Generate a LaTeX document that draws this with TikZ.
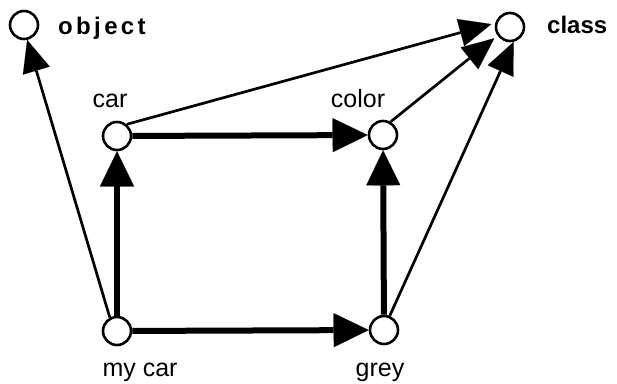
\documentclass[tikz,border=0pt]{standalone}
\usepackage{fontspec}
\setmainfont{Liberation Sans}
\usetikzlibrary{arrows.meta}
\tikzstyle{vertex}=[circle, draw, line width=2.6pt, minimum size=28pt, inner sep=0pt, fill=white]
\tikzstyle{lbl}=[inner sep=0pt, anchor=base, font=\fontsize{25}{30}\selectfont]
\tikzstyle{kind}=[inner sep=0pt, anchor=base west, font=\fontsize{24}{29}\selectfont\bfseries]
\tikzstyle{isa}=[line width=6pt, -{Triangle[length=35pt,width=34pt,line width=0.1pt]}]
\tikzstyle{inst}=[line width=2.7pt, -{Triangle[length=32pt,width=28pt,line width=0.1pt]}]

\begin{document}
\begin{tikzpicture}[x=1pt, y=-1pt]
\useasboundingbox (0,0) rectangle (617,383);
% Vertices
    \node[vertex] (object) at (24,25) {};
    \node[vertex] (class) at (510,27) {};
    \node[vertex] (car) at (117,136) {};
    \node[vertex] (color) at (383,135) {};
    \node[vertex] (mycar) at (117,331) {};
    \node[vertex] (grey) at (384,330) {};
%Labels
    \node[kind] (objectlbl) at (58,34) {\addfontfeature{LetterSpace=14}object};
    \node[kind] (classlbl) at (547,33) {class};
    \node[lbl] (carlbl) at (110,107) {car};
    \node[lbl] (colorlbl) at (358,107) {color};
    \node[lbl] (mycarlbl) at (140,376) {my car};
    \node[lbl] (greylbl) at (380,376) {grey};
%Arcs
    \draw[isa] (mycar) -- (car);
    \draw[isa] (mycar) -- (grey);
    \draw[isa] (car) -- (color);
    \draw[isa] (grey) -- (color);
    \draw[inst] (mycar.118) -- (object.282);
    \draw[inst, shorten >=4pt] (car.50) -- (class.165);
    \draw[inst, shorten >=4pt] (color.60) -- (class.215);
    \draw[inst] (grey.68) -- (class.284);
\end{tikzpicture}
\end{document}
